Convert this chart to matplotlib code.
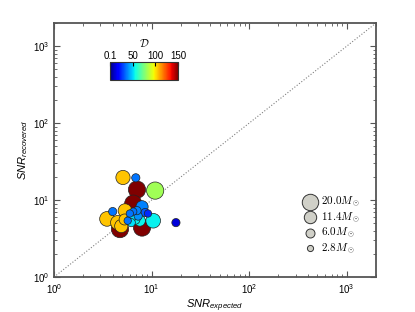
import numpy as np
import matplotlib
matplotlib.use("Agg")
import matplotlib.pyplot as plt
from matplotlib.font_manager import FontProperties

plt.rcParams["font.family"] = "Liberation Sans"
plt.rcParams["mathtext.fontset"] = "custom"
plt.rcParams["mathtext.rm"] = "Liberation Sans"
plt.rcParams["mathtext.it"] = "Liberation Sans:italic"

# ---- data ----
snr_exp = [5.1, 6.9, 7.1, 10.9, 6.5, 8.0, 5.35, 4.0, 3.5, 4.5, 4.9, 4.75, 8.0,
           10.4, 7.6, 17.8, 9.2, 8.6, 6.0, 6.5, 7.1, 6.2, 6.8, 5.7, 6.2, 5.3, 7.3]
snr_rec = [19.7, 19.5, 13.7, 13.3, 9.0, 8.2, 7.3, 7.1, 5.7, 5.1, 4.6, 4.2, 4.4,
           5.4, 5.4, 5.1, 6.7, 6.9, 6.7, 7.1, 7.3, 5.9, 5.6, 5.4, 5.1, 5.6, 6.2]
dist = [105, 36, 150, 82, 150, 38, 105, 36, 105, 105, 105, 150, 150,
        54, 55, 12, 25, 32, 36, 36, 38, 52, 54, 36, 52, 105, 40]
mass = [15, 5, 22, 22, 22, 11, 14, 5, 16, 15, 13, 22, 22,
        16, 9, 5, 4, 5, 4, 4, 5, 6, 7, 4, 5, 9, 5]

legend_mass = [20.0, 11.4, 6.0, 2.8]
cbar_ticks = [0.1, 50, 100, 150]

snr_exp = np.array(snr_exp)
snr_rec = np.array(snr_rec)
dist = np.array(dist)
mass = np.array(mass)

fig = plt.figure(figsize=(4.15, 3.12), dpi=100)
ax = fig.add_axes([0.130, 0.112, 0.776, 0.814])

# y = x reference line
ax.plot([1, 2000], [1, 2000], ls=":", color="gray", lw=0.8)

order = np.argsort(-mass)
sc = ax.scatter(snr_exp[order], snr_rec[order], s=7 * mass[order], c=dist[order],
                cmap="jet", vmin=0.1, vmax=150, edgecolors="#222222",
                linewidths=0.5, zorder=3)

ax.set_xscale("log")
ax.set_yscale("log")
ax.set_xlim(1, 2000)
ax.set_ylim(1, 2000)

ax.set_xlabel(r"$SNR_{expected}$", fontsize=8, labelpad=1)
ax.set_ylabel(r"$SNR_{recovered}$", fontsize=8, labelpad=2)

for sp in ax.spines.values():
    sp.set_color("#555555")
    sp.set_linewidth(1.3)
ax.tick_params(which="both", direction="in", top=True, right=True,
               colors="#555555", labelcolor="black", labelsize=7)
ax.tick_params(which="major", length=4)
ax.tick_params(which="minor", length=2)

# size legend
handles = [ax.scatter([], [], s=7 * m, c="#d0d0c8", edgecolors="#333333",
                      linewidths=0.7) for m in legend_mass]
labels = [r"$%.1fM_\odot$" % m for m in legend_mass]
leg_font = FontProperties(family="DejaVu Serif", size=8, math_fontfamily="cm")
ax.legend(handles, labels, loc="upper left", bbox_to_anchor=(0.735, 0.355),
          frameon=False, prop=leg_font, handletextpad=0.0, labelspacing=0.1,
          borderpad=0.2, scatterpoints=1)

# colorbar
cax = fig.add_axes([0.265, 0.744, 0.164, 0.057])
cb = fig.colorbar(sc, cax=cax, orientation="horizontal", ticks=cbar_ticks)
cb.ax.xaxis.set_ticks_position("top")
cb.ax.xaxis.set_label_position("top")
cb.ax.set_xticklabels(["0.1", "50", "100", "150"])
cb.ax.tick_params(labelsize=7, length=3, direction="in", pad=1)
cb.outline.set_linewidth(0.8)
cb.outline.set_edgecolor("#333333")
cb.set_label(r"$\mathcal{D}$", fontsize=8, labelpad=3,
             fontproperties=FontProperties(size=8, math_fontfamily="cm"))

fig.savefig("out.png", dpi=100)
